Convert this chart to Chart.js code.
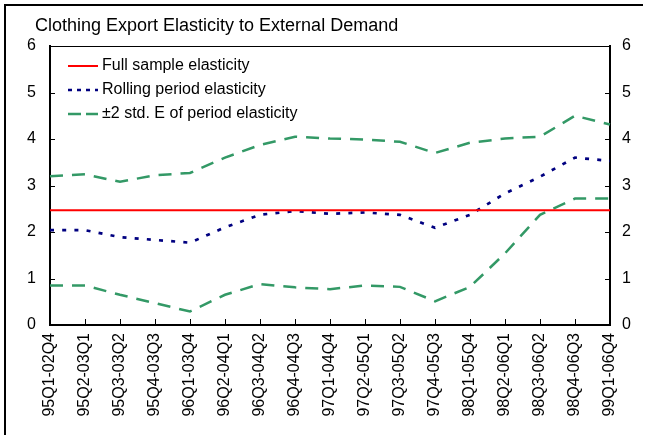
<!DOCTYPE html>
<html>
<head>
<meta charset="utf-8">
<script src="https://cdn.jsdelivr.net/npm/chart.js@4.4.0/dist/chart.umd.min.js"></script>
<style>
  body { margin: 0; background: #fff; }
  canvas { display: block; }
</style>
</head>
<body>
<canvas id="chart" width="648" height="435"></canvas>
<script>
const periods = ["95Q1-02Q4", "95Q2-03Q1", "95Q3-03Q2", "95Q4-03Q3", "96Q1-03Q4", "96Q2-04Q1",
  "96Q3-04Q2", "96Q4-04Q3", "97Q1-04Q4", "97Q2-05Q1", "97Q3-05Q2", "97Q4-05Q3", "98Q1-05Q4",
  "98Q2-06Q1", "98Q3-06Q2", "98Q4-06Q3", "99Q1-06Q4"];
const fullSample = [2.47, 2.47, 2.47, 2.47, 2.47, 2.47, 2.47, 2.47, 2.47, 2.47, 2.47, 2.47, 2.47, 2.47, 2.47, 2.47, 2.47];
const rolling = [2.04, 2.04, 1.89, 1.83, 1.77, 2.10, 2.37, 2.45, 2.39, 2.42, 2.37, 2.09, 2.37, 2.83, 3.19, 3.60, 3.53];
const upperBand = [3.20, 3.24, 3.08, 3.22, 3.27, 3.60, 3.87, 4.05, 4.01, 3.99, 3.94, 3.70, 3.92, 4.01, 4.05, 4.50, 4.31];
const lowerBand = [0.85, 0.85, 0.65, 0.47, 0.29, 0.65, 0.88, 0.81, 0.77, 0.85, 0.82, 0.51, 0.82, 1.54, 2.37, 2.72, 2.72];
const yTicks = [0, 1, 2, 3, 4, 5, 6];

const font = "'Liberation Sans', Arial, sans-serif";
Chart.defaults.font.family = font;
Chart.defaults.color = "#000";

// frame, top line, inward ticks, title and legend inside the plot
const decorations = {
  id: "decorations",
  afterDraw(chart) {
    const ctx = chart.ctx;
    const area = chart.chartArea;
    const x = chart.scales.x, y = chart.scales.y;
    ctx.save();
    ctx.strokeStyle = "#000";
    ctx.lineWidth = 2;
    ctx.beginPath();
    ctx.moveTo(5, 435); ctx.lineTo(5, 5); ctx.lineTo(643, 5);
    ctx.stroke();

    ctx.lineWidth = 1;
    ctx.beginPath();
    ctx.moveTo(area.left, Math.round(area.top) + 0.5);
    ctx.lineTo(area.right, Math.round(area.top) + 0.5);
    yTicks.forEach(v => {
      const py = Math.round(y.getPixelForValue(v)) + 0.5;
      ctx.moveTo(area.left, py); ctx.lineTo(area.left + 5, py);
      ctx.moveTo(area.right - 5, py); ctx.lineTo(area.right, py);
    });
    periods.forEach((p, i) => {
      const px = Math.round(x.getPixelForValue(i)) + 0.5;
      ctx.moveTo(px, area.bottom); ctx.lineTo(px, area.bottom - 6);
    });
    ctx.stroke();

    ctx.fillStyle = "#000";
    ctx.font = "18px " + font;
    ctx.textBaseline = "alphabetic";
    ctx.fillText("Clothing Export Elasticity to External Demand", 35, 31);

    ctx.font = "16px " + font;
    ctx.textBaseline = "middle";
    let row = 0;
    chart.data.datasets.forEach(ds => {
      if (ds.hideInLegend) return;
      const ly = 66 + row * 24;
      ctx.strokeStyle = ds.borderColor;
      ctx.lineWidth = ds.borderWidth;
      ctx.setLineDash(ds.legendDash || []);
      ctx.beginPath();
      ctx.moveTo(68, ly); ctx.lineTo(98, ly);
      ctx.stroke();
      ctx.setLineDash([]);
      ctx.fillText(ds.label, 102, ly);
      row++;
    });
    ctx.restore();
  }
};

const axisFont = { size: 16 };

new Chart(document.getElementById("chart"), {
  type: "line",
  data: {
    labels: periods,
    datasets: [
      { label: "Full sample elasticity", data: fullSample, borderColor: "#ff0000", borderWidth: 2 },
      { label: "Rolling period elasticity", data: rolling, borderColor: "#000080", borderWidth: 2.7,
        borderDash: [4, 8.2], legendDash: [4, 5] },
      { label: "±2 std. E of period elasticity", data: upperBand, borderColor: "#339966", borderWidth: 2.5,
        borderDash: [13, 9], legendDash: [13, 5] },
      { label: "±2 std. E of period elasticity", data: lowerBand, borderColor: "#339966", borderWidth: 2.5,
        borderDash: [13, 9], hideInLegend: true }
    ]
  },
  options: {
    responsive: false,
    animation: false,
    layout: { padding: { top: 46 } },
    elements: {
      point: { radius: 0 },
      line: { tension: 0, fill: false, borderCapStyle: "butt" }
    },
    plugins: { legend: { display: false }, tooltip: { enabled: false } },
    scales: {
      x: {
        type: "category",
        offset: false,
        grid: { display: false, drawTicks: false },
        border: { color: "#000", width: 2 },
        ticks: { autoSkip: false, maxRotation: 90, minRotation: 90, padding: 8, font: axisFont },
        afterFit(s) { s.height = 110; }
      },
      y: {
        position: "left",
        min: 0, max: 6,
        grid: { display: false, drawTicks: false },
        border: { color: "#000", width: 2 },
        ticks: { stepSize: 1, padding: 14, font: axisFont },
        afterFit(s) { s.width = 50; }
      },
      y2: {
        position: "right",
        min: 0, max: 6,
        grid: { display: false, drawTicks: false },
        border: { color: "#000", width: 2 },
        ticks: { stepSize: 1, padding: 12, font: axisFont },
        afterFit(s) { s.width = 38; }
      }
    }
  },
  plugins: [decorations]
});
</script>
</body>
</html>
